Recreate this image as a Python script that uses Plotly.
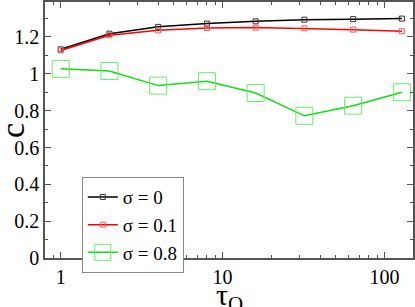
import plotly.graph_objects as go

tau = [1, 2, 4, 8, 16, 32, 64, 128]
c_sigma0 = [1.133, 1.218, 1.255, 1.273, 1.285, 1.294, 1.297, 1.300]
c_sigma01 = [1.127, 1.209, 1.236, 1.249, 1.251, 1.247, 1.240, 1.231]
c_sigma08 = [1.027, 1.015, 0.936, 0.960, 0.896, 0.772, 0.827, 0.900]

names = ["σ = 0", "σ = 0.1", "σ = 0.8"]
x_ticks = [1, 10, 100]
y_ticks = [0, 0.2, 0.4, 0.6, 0.8, 1.0, 1.2]

font = "serif"

fig = go.Figure()
fig.add_trace(go.Scatter(
    x=tau, y=c_sigma0, name=names[0], mode="lines+markers",
    line=dict(color="black", width=1.5),
    marker=dict(symbol="square-open", size=5, color="#333333", line=dict(width=1))))
fig.add_trace(go.Scatter(
    x=tau, y=c_sigma01, name=names[1], mode="lines+markers",
    line=dict(color="#ff0000", width=1.5),
    marker=dict(symbol="square-open", size=5, color="#ff5555", line=dict(width=1))))
fig.add_trace(go.Scatter(
    x=tau, y=c_sigma08, name=names[2], mode="lines+markers",
    line=dict(color="#11dd11", width=1.5),
    marker=dict(symbol="square-open", size=17, color="#66ee66", line=dict(width=1))))

minor_x = [0.8, 0.9] + [m * d for d in (1, 10) for m in range(2, 10)] + [200]

fig.update_layout(
    width=415, height=307,
    margin=dict(l=45, r=2, t=2, b=49, autoexpand=False),
    paper_bgcolor="white", plot_bgcolor="white",
    font=dict(family=font, size=20, color="black"),
    showlegend=True,
    legend=dict(
        x=0.1, y=0.316, xanchor="left", yanchor="top",
        bordercolor="#888888", borderwidth=1, bgcolor="white",
        font=dict(family=font, size=19),
        tracegroupgap=0, itemwidth=30,
    ),
    xaxis=dict(
        type="log", range=[-0.097, 2.176], automargin=False,
        tickvals=x_ticks, ticktext=[str(v) for v in x_ticks],
        ticks="inside", ticklen=6, tickcolor="#555555",
        showline=True, linecolor="#555555", linewidth=1.5, mirror="ticks",
        showgrid=False, zeroline=False,
        minor=dict(tickvals=minor_x, ticks="inside", ticklen=3, tickcolor="#555555", showgrid=False),
        tickfont=dict(family=font, size=20),
    ),
    yaxis=dict(
        range=[0, 1.39], automargin=False,
        tickvals=y_ticks, ticktext=["0", "0.2", "0.4", "0.6", "0.8", "1", "1.2"],
        ticks="inside", ticklen=6, tickcolor="#555555",
        showline=True, linecolor="#555555", linewidth=1.5, mirror="ticks",
        showgrid=False, zeroline=False,
        minor=dict(dtick=0.1, ticks="inside", ticklen=3, tickcolor="#555555", showgrid=False),
        tickfont=dict(family=font, size=20),
    ),
    annotations=[
        dict(text="τ<sub>Q</sub>", xref="paper", yref="paper", x=0.5, y=-0.07,
             xanchor="center", yanchor="top", showarrow=False,
             font=dict(family=font, size=30)),
        dict(text="c", xref="paper", yref="paper", x=-0.09, y=0.5,
             xanchor="center", yanchor="middle", showarrow=False, textangle=-90,
             font=dict(family=font, size=34)),
    ],
)

fig.write_html("out.html", config={"displayModeBar": False},
               post_script="document.body.style.margin='0';")
